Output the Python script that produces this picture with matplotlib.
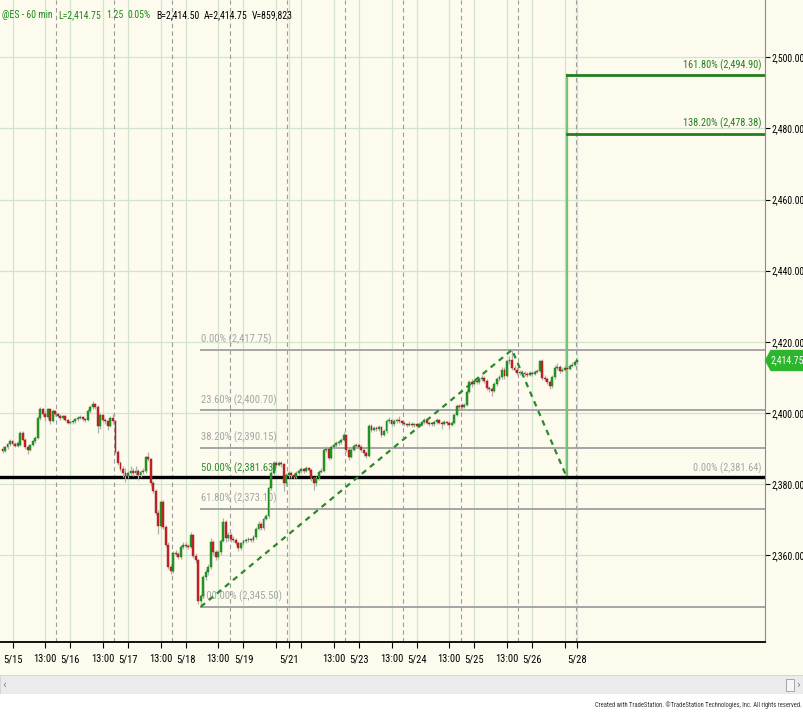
import matplotlib
matplotlib.use("Agg")
import matplotlib.pyplot as plt
from matplotlib import font_manager
from matplotlib.font_manager import FontProperties
from matplotlib.patches import Rectangle, Polygon
from matplotlib.transforms import blended_transform_factory

# ---- hourly bars, @ES 60 min (bar 0 = 5/14 20:00) ----
opens = [2390.0, 2389.3, 2390.3, 2391.2, 2392.0, 2391.4, 2390.8, 2391.0, 2394.3, 2392.5,
         2390.5, 2389.6, 2391.0, 2392.0, 2393.0, 2398.5, 2401.0, 2399.8, 2398.8, 2401.0,
         2397.8, 2400.5, 2399.6, 2399.2, 2398.6, 2399.0, 2398.0, 2397.2, 2397.4, 2397.6,
         2398.2, 2398.6, 2398.8, 2398.2, 2398.0, 2400.5, 2401.6, 2402.4, 2401.8, 2396.2,
         2399.4, 2398.0, 2397.6, 2396.4, 2398.6, 2397.6, 2389.0, 2386.0, 2384.2, 2383.0,
         2382.3, 2383.0, 2383.8, 2383.0, 2383.8, 2382.6, 2383.4, 2383.6, 2387.6, 2387.0,
         2380.2, 2378.0, 2372.0, 2368.2, 2375.0, 2368.0, 2363.0, 2356.6, 2355.6, 2360.6,
         2360.4, 2359.4, 2362.4, 2363.0, 2362.6, 2362.4, 2365.6, 2359.8, 2358.6, 2347.0,
         2348.6, 2353.9, 2355.2, 2356.7, 2363.8, 2361.0, 2359.6, 2360.8, 2364.0, 2369.4,
         2364.7, 2365.6, 2364.6, 2364.2, 2363.5, 2361.9, 2363.3, 2364.0, 2364.2, 2364.4,
         2364.2, 2365.0, 2367.5, 2368.9, 2367.6, 2370.3, 2371.0, 2378.8, 2383.0, 2385.8,
         2385.5, 2385.9, 2385.6, 2380.2, 2382.5, 2383.0, 2382.5, 2382.1, 2383.0, 2383.6,
         2384.1, 2383.8, 2384.4, 2384.0, 2381.6, 2380.2, 2381.6, 2383.5, 2383.8, 2389.6,
         2390.0, 2387.4, 2390.5, 2391.0, 2391.5, 2391.9, 2392.4, 2393.8, 2389.6, 2387.7,
         2389.6, 2390.8, 2391.0, 2390.5, 2389.6, 2388.6, 2388.0, 2396.2, 2395.2, 2395.7,
         2395.5, 2396.0, 2393.8, 2394.8, 2397.6, 2398.0, 2396.8, 2397.8, 2398.0, 2397.6,
         2397.2, 2396.8, 2396.6, 2397.0, 2396.5, 2396.8, 2396.4, 2396.9, 2397.4, 2398.0,
         2397.2, 2397.0, 2396.8, 2397.4, 2398.0, 2397.3, 2397.0, 2397.4, 2397.2, 2396.6,
         2397.2, 2399.5, 2401.9, 2402.3, 2401.8, 2402.3, 2406.0, 2408.6, 2408.1, 2409.0,
         2408.6, 2409.5, 2409.9, 2409.0, 2407.1, 2406.6, 2406.2, 2408.1, 2409.5, 2410.0,
         2412.2, 2410.3, 2414.5, 2415.0, 2412.7, 2412.2, 2411.3, 2411.6, 2411.3, 2411.0,
         2410.8, 2411.3, 2411.0, 2411.6, 2411.8, 2414.5, 2409.9, 2409.5, 2408.6, 2407.5,
         2410.0, 2412.7, 2413.0, 2411.8, 2412.2, 2412.7, 2412.4, 2413.2, 2413.6, 2414.2]
highs = [2390.6, 2390.8, 2391.6, 2392.6, 2392.4, 2391.8, 2392.0, 2395.0, 2394.8, 2393.0,
         2391.0, 2391.4, 2392.4, 2393.5, 2399.0, 2401.8, 2401.4, 2400.6, 2401.5, 2401.4,
         2401.0, 2400.9, 2400.0, 2399.6, 2399.5, 2399.4, 2398.4, 2397.8, 2398.0, 2398.6,
         2399.0, 2399.4, 2399.2, 2398.6, 2401.0, 2402.2, 2403.4, 2402.8, 2402.2, 2400.0,
         2399.8, 2398.6, 2398.0, 2399.2, 2399.6, 2398.0, 2389.6, 2386.6, 2385.0, 2384.4,
         2383.8, 2385.0, 2384.6, 2385.2, 2384.2, 2384.0, 2384.4, 2388.0, 2389.0, 2387.4,
         2381.0, 2378.6, 2372.6, 2375.6, 2375.6, 2368.6, 2363.6, 2357.4, 2361.2, 2361.6,
         2361.0, 2363.0, 2363.8, 2363.6, 2363.2, 2366.6, 2366.0, 2360.6, 2359.0, 2349.2,
         2354.4, 2356.0, 2357.4, 2364.8, 2364.4, 2361.4, 2361.4, 2364.6, 2370.4, 2370.0,
         2366.4, 2366.2, 2365.4, 2364.8, 2364.0, 2363.8, 2364.6, 2364.8, 2365.0, 2364.8,
         2365.6, 2368.0, 2369.6, 2369.4, 2370.8, 2371.6, 2379.4, 2383.6, 2386.4, 2386.4,
         2386.6, 2386.4, 2386.0, 2383.0, 2383.6, 2383.6, 2383.0, 2383.6, 2384.2, 2384.8,
         2384.6, 2385.0, 2384.8, 2384.4, 2382.0, 2382.2, 2384.0, 2384.4, 2390.2, 2390.8,
         2390.4, 2391.0, 2391.6, 2392.0, 2392.4, 2393.0, 2394.6, 2394.2, 2390.2, 2390.2,
         2391.4, 2391.6, 2391.4, 2391.0, 2390.0, 2389.2, 2396.8, 2396.8, 2396.4, 2396.2,
         2396.6, 2396.4, 2395.4, 2398.2, 2398.8, 2398.4, 2398.4, 2398.6, 2399.0, 2398.0,
         2397.6, 2397.2, 2397.6, 2397.4, 2397.2, 2397.2, 2397.4, 2397.8, 2398.6, 2398.4,
         2397.6, 2397.4, 2398.0, 2398.6, 2398.4, 2397.8, 2398.0, 2397.8, 2397.6, 2397.8,
         2400.0, 2402.6, 2402.6, 2402.8, 2402.8, 2406.6, 2409.4, 2409.6, 2409.6, 2409.8,
         2410.0, 2410.8, 2410.4, 2409.6, 2407.6, 2407.2, 2408.6, 2410.0, 2410.6, 2412.8,
         2412.8, 2415.0, 2416.0, 2417.75, 2413.4, 2412.8, 2412.2, 2412.0, 2411.8, 2411.6,
         2411.8, 2411.8, 2412.2, 2412.4, 2415.0, 2415.2, 2410.6, 2410.0, 2409.2, 2410.6,
         2413.4, 2414.0, 2413.6, 2413.0, 2413.4, 2413.2, 2413.8, 2414.2, 2414.8, 2415.2]
lows = [2388.8, 2389.0, 2389.9, 2390.8, 2391.0, 2390.3, 2390.4, 2390.8, 2392.0, 2389.8,
        2388.5, 2389.2, 2390.6, 2391.6, 2392.8, 2398.0, 2399.2, 2397.8, 2398.4, 2397.0,
        2397.4, 2399.0, 2398.8, 2398.0, 2398.2, 2397.6, 2396.8, 2396.8, 2397.0, 2397.2,
        2397.8, 2398.2, 2397.8, 2397.4, 2397.6, 2400.0, 2401.2, 2401.2, 2394.5, 2395.6,
        2397.4, 2397.0, 2395.2, 2396.0, 2397.0, 2388.4, 2385.4, 2383.6, 2382.0, 2380.5,
        2381.6, 2382.6, 2382.2, 2382.6, 2381.2, 2382.0, 2382.8, 2383.2, 2386.6, 2379.4,
        2377.4, 2371.4, 2366.0, 2367.6, 2367.4, 2362.4, 2356.0, 2354.8, 2355.0, 2359.8,
        2358.8, 2359.0, 2361.8, 2362.0, 2361.8, 2362.0, 2359.2, 2357.8, 2346.4, 2345.5,
        2348.0, 2353.0, 2354.4, 2356.2, 2360.2, 2358.6, 2359.0, 2360.2, 2363.6, 2363.8,
        2364.0, 2363.8, 2363.6, 2362.8, 2361.2, 2361.4, 2362.8, 2363.4, 2363.6, 2363.6,
        2363.8, 2364.6, 2367.0, 2367.0, 2367.2, 2369.8, 2370.6, 2378.2, 2382.6, 2384.8,
        2385.0, 2384.8, 2378.0, 2379.6, 2381.8, 2381.8, 2381.4, 2381.6, 2382.6, 2383.2,
        2383.2, 2383.4, 2383.4, 2381.0, 2378.3, 2379.6, 2381.2, 2383.0, 2383.4, 2389.0,
        2386.8, 2387.0, 2390.0, 2390.4, 2391.0, 2391.4, 2392.0, 2389.0, 2386.8, 2387.2,
        2389.2, 2390.2, 2390.0, 2389.0, 2388.0, 2387.2, 2387.6, 2394.6, 2394.8, 2394.8,
        2395.0, 2393.2, 2393.4, 2394.4, 2397.2, 2396.2, 2396.4, 2397.2, 2397.2, 2396.6,
        2396.2, 2396.0, 2396.2, 2396.0, 2396.0, 2395.8, 2396.0, 2396.4, 2397.0, 2396.8,
        2396.4, 2396.2, 2396.4, 2397.0, 2396.8, 2395.4, 2396.6, 2396.6, 2395.6, 2396.2,
        2396.8, 2399.0, 2401.0, 2401.2, 2401.4, 2402.0, 2405.6, 2407.4, 2407.8, 2408.0,
        2408.2, 2409.0, 2408.4, 2406.4, 2405.8, 2404.8, 2405.8, 2407.6, 2409.0, 2409.6,
        2409.6, 2410.0, 2413.8, 2412.2, 2411.6, 2410.6, 2410.8, 2410.6, 2410.4, 2410.2,
        2410.4, 2410.4, 2410.6, 2411.2, 2411.4, 2409.4, 2409.0, 2408.0, 2406.8, 2407.0,
        2409.6, 2412.2, 2411.2, 2411.4, 2411.8, 2411.8, 2412.0, 2412.8, 2413.2, 2413.8]
closes = [2389.3, 2390.3, 2391.2, 2392.0, 2391.4, 2390.8, 2391.6, 2394.3, 2392.5, 2390.5,
          2389.6, 2391.0, 2392.0, 2393.0, 2398.5, 2401.0, 2399.8, 2398.8, 2401.0, 2397.8,
          2400.5, 2399.6, 2399.2, 2398.6, 2399.0, 2398.0, 2397.2, 2397.4, 2397.6, 2398.2,
          2398.6, 2398.8, 2398.2, 2398.0, 2400.5, 2401.6, 2402.4, 2401.8, 2396.2, 2399.4,
          2398.0, 2397.6, 2396.4, 2398.6, 2397.6, 2389.0, 2386.0, 2384.2, 2383.0, 2382.3,
          2383.0, 2383.8, 2383.0, 2383.8, 2382.6, 2383.4, 2383.6, 2387.6, 2387.0, 2380.2,
          2378.0, 2372.0, 2368.2, 2375.0, 2368.0, 2363.0, 2356.6, 2355.6, 2360.6, 2360.4,
          2359.4, 2362.4, 2363.0, 2362.6, 2362.4, 2365.6, 2359.8, 2358.6, 2347.0, 2348.6,
          2353.9, 2355.2, 2356.7, 2363.8, 2361.0, 2359.6, 2360.8, 2364.0, 2369.4, 2364.7,
          2365.6, 2364.6, 2364.2, 2363.5, 2361.9, 2363.3, 2364.0, 2364.2, 2364.4, 2364.2,
          2365.0, 2367.5, 2368.9, 2367.6, 2370.3, 2371.0, 2378.8, 2383.0, 2385.8, 2385.5,
          2385.9, 2385.6, 2380.2, 2382.5, 2383.0, 2382.5, 2382.1, 2383.0, 2383.6, 2384.1,
          2383.8, 2384.4, 2384.0, 2381.6, 2380.2, 2381.6, 2383.5, 2383.8, 2389.6, 2390.0,
          2387.4, 2390.5, 2391.0, 2391.5, 2391.9, 2392.4, 2393.8, 2389.6, 2387.7, 2389.6,
          2390.8, 2391.0, 2390.5, 2389.6, 2388.6, 2388.0, 2396.2, 2395.2, 2395.7, 2395.5,
          2396.0, 2393.8, 2394.8, 2397.6, 2398.0, 2396.8, 2397.8, 2398.0, 2397.6, 2397.2,
          2396.8, 2396.6, 2397.0, 2396.5, 2396.8, 2396.4, 2396.9, 2397.4, 2398.0, 2397.2,
          2397.0, 2396.8, 2397.4, 2398.0, 2397.3, 2397.0, 2397.4, 2397.2, 2396.6, 2397.2,
          2399.5, 2401.9, 2401.6, 2401.8, 2402.3, 2406.0, 2408.6, 2408.1, 2409.0, 2408.6,
          2409.5, 2409.9, 2409.0, 2407.1, 2406.6, 2406.2, 2408.1, 2409.5, 2410.0, 2412.2,
          2410.3, 2414.5, 2415.0, 2412.7, 2412.2, 2411.3, 2411.6, 2411.3, 2411.0, 2410.8,
          2411.3, 2411.0, 2411.6, 2411.8, 2414.5, 2409.9, 2409.5, 2408.6, 2407.5, 2410.0,
          2412.7, 2413.0, 2411.8, 2412.2, 2412.7, 2412.4, 2413.2, 2413.6, 2414.2, 2414.75]

# time axis (bar index of each tick; some ticks carry no label)
tick_bars = [4, 17, 27, 40, 50, 63, 73, 86, 96, 109, 114, 119,
             132, 142, 155, 165, 178, 188, 201, 211, 224, 229]
tick_labels = ["5/15", "13:00", "5/16", "13:00", "5/17", "13:00", "5/18", "13:00", "5/19", "", "5/21", "",
               "13:00", "5/23", "13:00", "5/24", "13:00", "5/25", "13:00", "5/26", "", "5/28"]
session_breaks = [21.5, 44.5, 67.5, 90.5, 113.5, 136.5, 159.5, 182.5, 205.5, 228.5]
price_ticks = [2360, 2380, 2400, 2420, 2440, 2460, 2480, 2500]

# fib drawings
retr_pcts = ["0.00%", "23.60%", "38.20%", "50.00%", "61.80%", "100.00%"]
retr_levels = [2417.75, 2400.70, 2390.15, 2381.63, 2373.10, 2345.50]
ext_pcts = ["0.00%", "138.20%", "161.80%"]
ext_levels = [2381.64, 2478.38, 2494.90]
anchor_bars = [79, 203, 225]
anchor_prices = [2345.50, 2417.75, 2381.64]
support_level = 2381.95
last_price = 2414.75

header = [("@ES - 60 min", 2, "g"), ("L=2,414.75", 58, "g"), ("1.25", 106, "g"), ("0.05%", 128, "g"),
          ("B=2,414.50", 156, "k"), ("A=2,414.75", 204, "k"), ("V=859,823", 252, "k")]

BG = "#fdfbee"
GREEN = "#22a022"
RED = "#cc2222"
GRID = "#d3e4cc"
FIBGRAY = "#a5a5a5"
FIBGREEN = "#2e8b2e"
W, H = 804, 713


def narrow_font():
    fl = font_manager.fontManager.ttflist
    regular = [f for f in fl if f.style == "normal" and str(f.weight) in ("400", "normal", "regular", "book")]
    for want in ("Liberation Sans Narrow", "Arial Narrow", "Roboto Condensed", "Open Sans Condensed"):
        for f in regular:
            if f.name == want:
                return FontProperties(fname=f.fname)
    for f in regular:
        if f.stretch in ("condensed", "semi-condensed", "extra-condensed"):
            return FontProperties(fname=f.fname)
    return FontProperties(family="Liberation Sans")


FP = narrow_font()


def fx(px):
    return px / W


def fy(py):
    return 1 - py / H


fig = plt.figure(figsize=(W / 100, H / 100), dpi=100)
fig.patch.set_facecolor(BG)
renderer = fig.canvas.get_renderer()


def fit(sample, target_px):
    # font size that gives the sample string the width seen on the reference
    t = fig.text(0, 0, sample, fontproperties=FP, fontsize=10)
    w = t.get_window_extent(renderer).width
    t.remove()
    return 10 * target_px / w


def fp(size):
    p = FP.copy()
    p.set_size(size)
    return p


s_head = min(fit("B=2,414.50", 43), fit("@ES - 60 min", 52))
s_fib = fit("23.60% (2,400.70)", 75)
s_ext = fit("161.80% (2,494.90)", 78)
s_y = fit("2,500.00", 33)
s_x = fit("13:00", 23)
s_foot = fit("Created with TradeStation. \u00a9TradeStation Technologies, Inc. All rights reserved.", 205)

ax = fig.add_axes([0, fy(642), fx(765), 642 / H])
ax.set_facecolor(BG)
ax.set_xlim(-1.0, 303.8)
ax.set_ylim(2335.6, 2516.1)

# grid
for p in price_ticks:
    ax.axhline(p, color=GRID, lw=0.9, zorder=0)
for b in tick_bars:
    ax.axvline(b, color=GRID, lw=0.9, zorder=0)
for b in session_breaks:
    ax.axvline(b, color="#9c9c9c", lw=0.8, ls=(0, (4, 3)), zorder=0.5)

# fib retracement levels (drawn under the bars)
x_end = ax.get_xlim()[1]
for pct, lvl in zip(retr_pcts, retr_levels):
    col = FIBGREEN if pct == "50.00%" else FIBGRAY
    ax.plot([anchor_bars[0], x_end], [lvl, lvl], color=col, lw=1.4 if col == FIBGRAY else 1.2, zorder=1.5)
    ax.annotate(f"{pct} ({lvl:,.2f})", xy=(anchor_bars[0], lvl), xytext=(0.5, 3.4),
                textcoords="offset points", ha="left", va="bottom", color=col,
                fontproperties=fp(s_fib), zorder=1.6)

# fib extension
ax.plot([anchor_bars[2], anchor_bars[2]], [ext_levels[0], ext_levels[2]], color="#78c278", lw=1.7, zorder=1.5)
for pct, lvl in zip(ext_pcts, ext_levels):
    col = FIBGRAY if pct == "0.00%" else "#1f7f1f"
    lcol = "#3c9a3c" if pct == "0.00%" else "#1f7f1f"
    ax.plot([anchor_bars[2], x_end], [lvl, lvl], color=lcol, lw=1.1 if pct == "0.00%" else 2.0, zorder=1.5)
    ax.annotate(f"{pct} ({lvl:,.2f})", xy=(x_end, lvl), xytext=(-2.5, 3.4),
                textcoords="offset points", ha="right", va="bottom", color=col,
                fontproperties=fp(s_ext), zorder=1.6)

# black support line across the whole chart
ax.axhline(support_level, color="black", lw=2.4, zorder=1.8)

# candles
xs = list(range(len(closes)))
ax.vlines(xs, lows, highs, color="#b0b0b0", lw=0.9, zorder=3)
cols = [GREEN if c >= o else RED for o, c in zip(opens, closes)]
edges = ["#176e17" if c >= o else "#991a1a" for o, c in zip(opens, closes)]
heights = [max(abs(c - o), 0.25) for o, c in zip(opens, closes)]
bottoms = [min(o, c) for o, c in zip(opens, closes)]
ax.bar(xs, heights, bottom=bottoms, width=0.75, color=cols, edgecolor=edges, lw=0.3, zorder=4)

# dashed swing lines
ax.plot(anchor_bars, anchor_prices, color="#2a8a2a", lw=1.6, ls=(0, (2.5, 2.2)), zorder=5)

# axes styling
for s in ("left", "top"):
    ax.spines[s].set_visible(False)
ax.spines["right"].set_color("#8a8a8a")
ax.spines["bottom"].set_color("black")
ax.spines["bottom"].set_linewidth(1.3)
ax.yaxis.tick_right()
ax.set_yticks(price_ticks)
ax.set_yticklabels([f"{p:,.2f}" for p in price_ticks], fontproperties=fp(s_y))
ax.tick_params(axis="y", direction="out", length=3.5, width=0.8, pad=1, colors="black")
ax.set_xticks(tick_bars)
ax.set_xticklabels(tick_labels, fontproperties=fp(s_x))
ax.tick_params(axis="x", direction="out", length=4, width=0.8, pad=5, colors="black")
for t in ax.xaxis.get_ticklines():
    t.set_color("#555555")

# header
for txt, px, c in header:
    fig.text(fx(px), fy(15), txt, color="#1a8a1a" if c == "g" else "black",
             fontproperties=fp(s_head), ha="left", va="center")

# last price marker on the price scale
tr = blended_transform_factory(fig.transFigure, ax.transData)
hh = 2.8
box = Polygon([(fx(765.5), last_price), (fx(771), last_price + hh), (fx(804), last_price + hh),
               (fx(804), last_price - hh), (fx(771), last_price - hh)],
              closed=True, transform=tr, facecolor="#2db52d", edgecolor="#2db52d", clip_on=False, zorder=10)
fig.add_artist(box)
fig.text(fx(787.5), last_price, f"{last_price:,.2f}", transform=tr, ha="center", va="center",
         color="white", fontproperties=fp(s_y), zorder=11)

# scrollbar and footer
fig.add_artist(Rectangle((0, fy(694)), 1, (694 - 675) / H, transform=fig.transFigure,
                         facecolor="#ebebeb", edgecolor="#d0d0d0", lw=0.6))
fig.add_artist(Rectangle((fx(786), fy(691)), fx(8), 12 / H, transform=fig.transFigure,
                         facecolor="#f6f6f6", edgecolor="#9a9a9a", lw=0.6))
fig.text(fx(4), fy(684.5), "\u2039", color="#777777", fontsize=7, ha="center", va="center")
fig.text(fx(798), fy(684.5), "\u203a", color="#777777", fontsize=7, ha="center", va="center")
fig.add_artist(Rectangle((0, 0), 1, (713 - 694) / H, transform=fig.transFigure,
                         facecolor="white", edgecolor="none"))
fig.text(fx(802), fy(705), "Created with TradeStation. \u00a9TradeStation Technologies, Inc. All rights reserved.",
         color="#333333", fontproperties=fp(s_foot), ha="right", va="center")

fig.savefig("out.png", dpi=100, facecolor=fig.get_facecolor())
